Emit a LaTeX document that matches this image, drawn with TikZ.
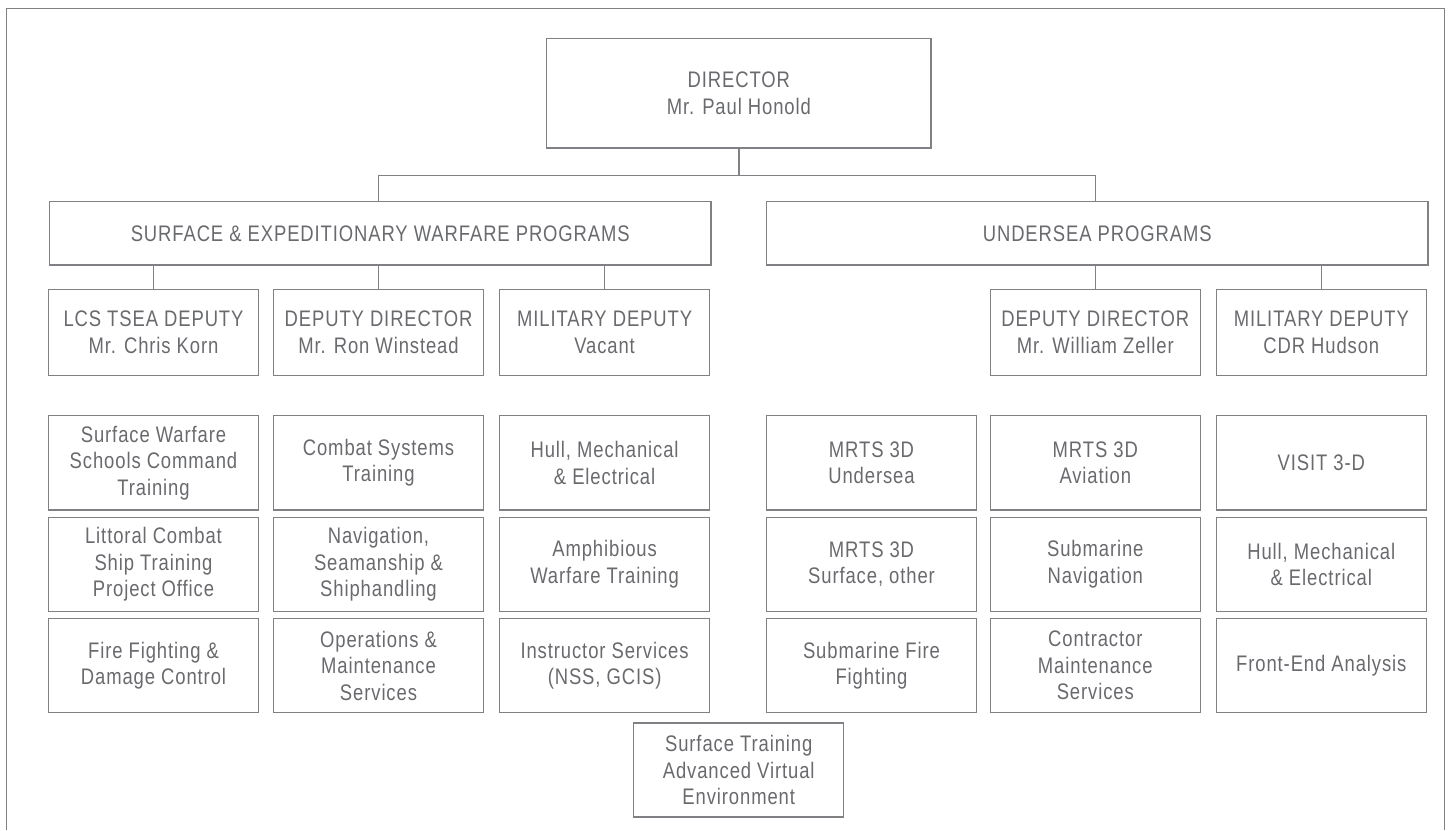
\documentclass[tikz,border=0pt]{standalone}
\usepackage{fontspec}
\setmainfont[FakeStretch=0.82,LetterSpace=4]{Liberation Sans}
\definecolor{lc}{RGB}{128,129,132}
\definecolor{tc}{RGB}{105,106,110}
\begin{document}
\begin{tikzpicture}[x=1pt,y=-1pt,
  box/.style={draw=lc,line width=1.3pt,inner sep=0pt,align=center,text=tc,
    font=\fontsize{22.5}{26.5}\selectfont},
  cell/.style={box,minimum width=210,minimum height=94.2},
  dep/.style={box,minimum width=210,minimum height=86.4,font=\fontsize{22.5}{27}\selectfont},
  prog/.style={box,minimum width=661.5,minimum height=63.3},
  conn/.style={draw=lc,line width=1.3pt}]
\useasboundingbox (0,0) rectangle (1451,830);
\draw[conn] (6.7,830) -- (6.7,8.7) -- (1444.5,8.7) -- (1444.5,830);

% director
\node[dep,minimum width=384.3,minimum height=109.3] (dir) at (738.85,93.35) {DIRECTOR\\Mr. Paul Honold};

% programs
\node[prog] (sew) at (380.25,233.35) {SURFACE \& EXPEDITIONARY WARFARE PROGRAMS};
\node[prog] (usp) at (1097.2,233.35) {UNDERSEA PROGRAMS};

% deputies
\node[dep] (d1) at (153.5,332.5) {LCS TSEA DEPUTY\\Mr. Chris Korn};
\node[dep] (d2) at (378.5,332.5) {DEPUTY DIRECTOR\\Mr. Ron Winstead};
\node[dep] (d3) at (604.6,332.5) {MILITARY DEPUTY\\Vacant};
\node[dep] (d5) at (1095.3,332.5) {DEPUTY DIRECTOR\\Mr. William Zeller};
\node[dep] (d6) at (1321.3,332.5) {MILITARY DEPUTY\\CDR Hudson};

% grid row 1
\node[cell] (a1) at (153.5,462.85) {Surface Warfare\\Schools Command\\Training};
\node[cell] (a2) at (378.5,462.85) {Combat Systems\\Training};
\node[cell] (a3) at (604.6,462.85) {Hull, Mechanical\\\& Electrical};
\node[cell] (a4) at (871.5,462.85) {MRTS 3D\\Undersea};
\node[cell] (a5) at (1095.3,462.85) {MRTS 3D\\Aviation};
\node[cell] (a6) at (1321.3,462.85) {VISIT 3-D};
% grid row 2
\node[cell] (b1) at (153.5,564.3) {Littoral Combat\\Ship Training\\Project Office};
\node[cell] (b2) at (378.5,564.3) {Navigation,\\Seamanship \&\\Shiphandling};
\node[cell] (b3) at (604.6,564.3) {Amphibious\\Warfare Training};
\node[cell] (b4) at (871.5,564.3) {MRTS 3D\\Surface, other};
\node[cell] (b5) at (1095.3,564.3) {Submarine\\Navigation};
\node[cell] (b6) at (1321.3,564.3) {Hull, Mechanical\\\& Electrical};
% grid row 3
\node[cell] (c1) at (153.5,665.7) {Fire Fighting \&\\Damage Control};
\node[cell] (c2) at (378.5,665.7) {Operations \&\\Maintenance\\Services};
\node[cell] (c3) at (604.6,665.7) {Instructor Services\\(NSS, GCIS)};
\node[cell] (c4) at (871.5,665.7) {Submarine Fire\\Fighting};
\node[cell] (c5) at (1095.3,665.7) {Contractor\\Maintenance\\Services};
\node[cell] (c6) at (1321.3,665.7) {Front-End Analysis};
% extra
\node[cell] (e1) at (738.7,770) {Surface Training\\Advanced Virtual\\Environment};

% connectors
\draw[conn] (dir.south) -- ++(0,26.6) coordinate (j);
\draw[conn] ([xshift=-1.5]sew.north) |- (j) -| ([xshift=-1.9]usp.north);
\foreach \d in {d1,d2,d3} \draw[conn] (sew.south -| \d.north) -- (\d.north);
\foreach \d in {d5,d6} \draw[conn] (usp.south -| \d.north) -- (\d.north);
\end{tikzpicture}
\end{document}
